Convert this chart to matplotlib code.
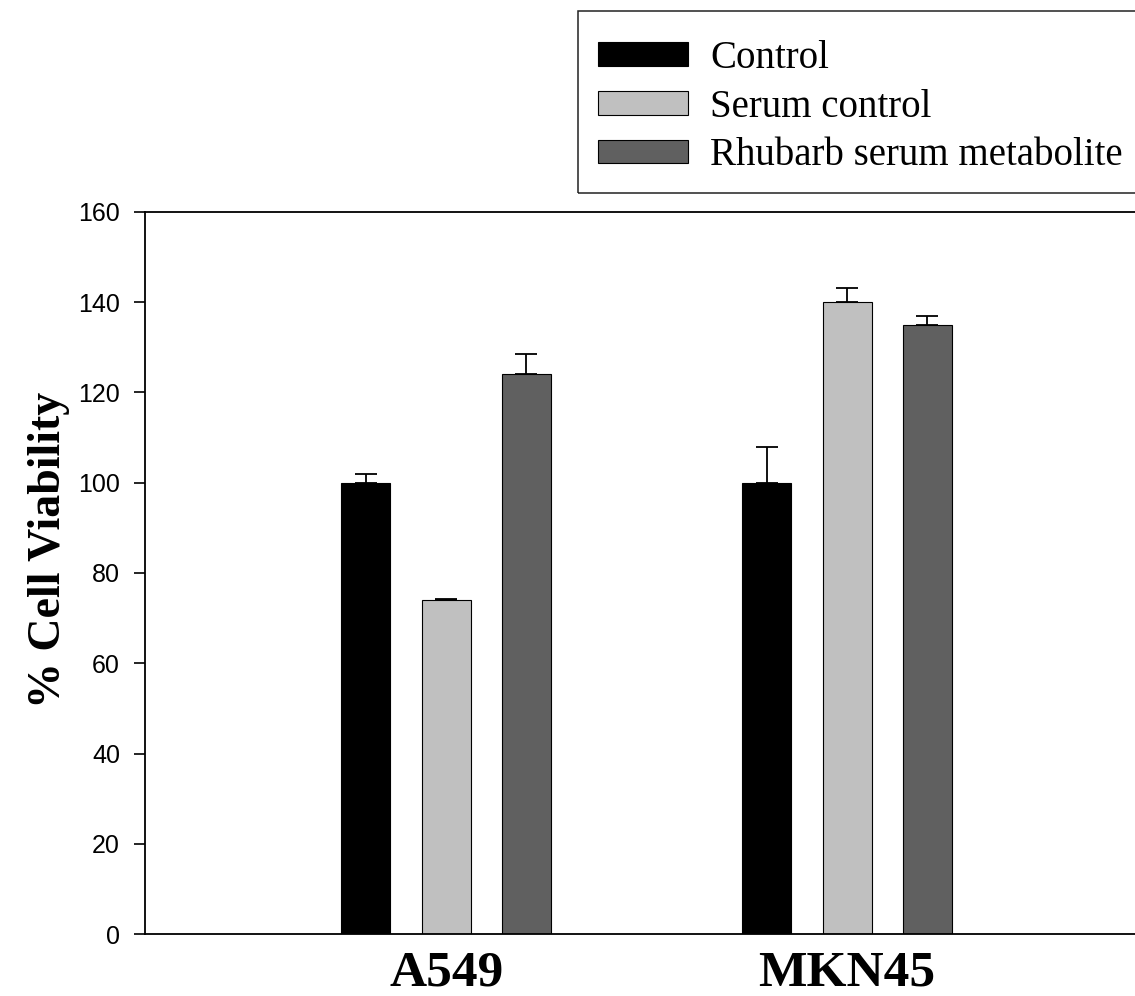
import matplotlib
matplotlib.use('Agg')
import matplotlib.pyplot as plt
from matplotlib.patches import Rectangle
import numpy as np

# data
cell_lines = ['A549', 'MKN45']
series = ['Control', 'Serum control', 'Rhubarb serum metabolite']
means = {
    'Control': [100, 100],
    'Serum control': [74, 140],
    'Rhubarb serum metabolite': [124, 135],
}
errors = {
    'Control': [2, 8],
    'Serum control': [0.3, 3.2],
    'Rhubarb serum metabolite': [4.6, 2],
}
colors = ['#000000', '#c0c0c0', '#606060']

fig = plt.figure(figsize=(11.35, 9.96), dpi=100)
ax = fig.add_axes([145 / 1135, 62 / 996, 990 / 1135, 722 / 996])

x = np.arange(len(cell_lines))
offset = 0.2
width = 0.122
for i, name in enumerate(series):
    pos = x + (i - 1) * offset
    ax.bar(pos, means[name], width, color=colors[i], edgecolor='black',
           linewidth=0.8, label=name, zorder=2)
    ax.errorbar(pos, means[name], yerr=[np.zeros(len(x)), errors[name]],
                fmt='none', ecolor='black', elinewidth=1.3, capsize=8,
                capthick=1.3, zorder=3)

ax.set_xlim(-0.751, 1.718)
ax.set_ylim(0, 160)
ax.set_yticks(np.arange(0, 161, 20))
ax.set_xticks(x)
ax.set_xticklabels(cell_lines, fontfamily='Liberation Serif', fontweight='bold', fontsize=37)
ax.tick_params(axis='x', length=0, pad=12)
ax.tick_params(axis='y', direction='out', length=8, width=1.2, labelsize=18, pad=10)
for lab in ax.get_yticklabels():
    lab.set_fontfamily('Liberation Sans')
ax.spines['right'].set_visible(False)
for s in ['left', 'bottom', 'top']:
    ax.spines[s].set_linewidth(1.3)

ax.set_ylabel('% Cell Viability', fontfamily='Liberation Serif', fontweight='bold',
              fontsize=33)
ax.yaxis.set_label_coords(-0.076, 0.532)

# legend box runs off the right edge like in the original
fig.patches.append(Rectangle((578 / 1135, 1 - 193 / 996), 0.6, 182 / 996,
                             transform=fig.transFigure, fill=False,
                             edgecolor='#222222', linewidth=1.1))
fig.legend(loc='upper left', bbox_to_anchor=(598 / 1135, 1 - 40 / 996),
           prop={'family': 'Liberation Serif', 'size': 28},
           frameon=False, handlelength=2.31, handleheight=0.56,
           handletextpad=0.57, labelspacing=0.3, borderpad=0, borderaxespad=0)

fig.savefig('out.png', dpi=100)
